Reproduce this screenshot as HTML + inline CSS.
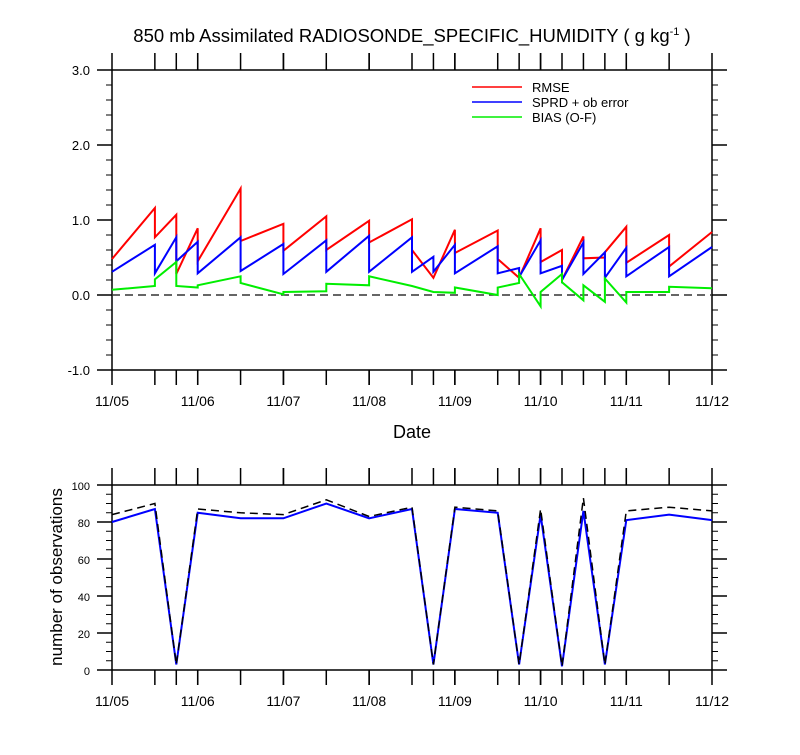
<!DOCTYPE html>
<html><head><meta charset="utf-8"><style>
body{margin:0;background:#fff}
svg text{font-family:"Liberation Sans",sans-serif;fill:#000}
</style></head><body>
<svg id="c" width="800" height="750" xmlns="http://www.w3.org/2000/svg"></svg>
<script>
// times in days after 11/05 00Z; repeated times make vertical jumps
const rmseT = [0,0.5,0.5,0.75,0.75,1,1,1.5,1.5,2,2,2.5,2.5,3,3,3.5,3.5,3.75,4,4,4.5,4.5,4.75,5,5,5.25,5.25,5.5,5.5,5.75,5.75,6,6,6.5,6.5,7];
const rmseV = [0.48,1.16,0.77,1.07,0.28,0.89,0.45,1.42,0.72,0.95,0.59,1.05,0.6,0.99,0.7,1.01,0.6,0.23,0.87,0.56,0.86,0.48,0.23,0.89,0.44,0.6,0.2,0.78,0.49,0.5,0.57,0.91,0.43,0.8,0.38,0.84];
const sprdT = [0,0.5,0.5,0.75,0.75,1,1,1.5,1.5,2,2,2.5,2.5,3,3,3.5,3.5,3.75,3.75,4,4,4.5,4.5,4.75,4.75,5,5,5.25,5.25,5.5,5.5,5.75,5.75,6,6,6.5,6.5,7];
const sprdV = [0.31,0.67,0.29,0.77,0.45,0.71,0.29,0.77,0.32,0.68,0.28,0.73,0.31,0.79,0.31,0.77,0.31,0.51,0.31,0.67,0.29,0.65,0.29,0.36,0.24,0.73,0.29,0.39,0.2,0.7,0.28,0.57,0.23,0.63,0.25,0.64,0.25,0.64];
const biasT = [0,0.5,0.5,0.75,0.75,1,1,1.5,1.5,2,2,2.5,2.5,3,3,3.5,3.75,4,4,4.5,4.5,4.75,4.75,5,5,5.25,5.25,5.5,5.5,5.75,5.75,6,6,6.5,6.5,7];
const biasV = [0.07,0.12,0.21,0.44,0.12,0.1,0.13,0.25,0.16,0.01,0.04,0.05,0.15,0.13,0.25,0.12,0.04,0.03,0.1,0.0,0.1,0.16,0.28,-0.15,0.04,0.28,0.17,-0.07,0.13,-0.09,0.22,-0.1,0.04,0.04,0.11,0.09];
const obsT = [0,0.5,0.75,1,1.5,2,2.5,3,3.5,3.75,4,4.5,4.75,5,5.25,5.5,5.75,6,6.5,7];
const obsUsed = [80,87,3,85,82,82,90,82,87,3,87,85,3,84,2,86,3,81,84,81];
const obsTotal = [84,90,3,87,85,84,92,83,88,3,88,86,3,87,2,93,3,86,88,86];
const dayLabels = ["11/05","11/06","11/07","11/08","11/09","11/10","11/11","11/12"];
const topYTicks = [-1,0,1,2,3];
const topYLabels = ["-1.0","0.0","1.0","2.0","3.0"];
const botYTicks = [0,20,40,60,80,100];

const svg=document.getElementById('c');const NS='http://www.w3.org/2000/svg';
function el(t,a,p){const e=document.createElementNS(NS,t);for(const k in a)e.setAttribute(k,a[k]);(p||svg).appendChild(e);return e;}
const X0=112,X1=712;
const xs=t=>X0+(X1-X0)*t/7;
const yTop=v=>295-75*v;
const yBot=v=>670-1.85*v;
const brk=[0.5,0.75,1,1.5,2,2.5,3,3.5,3.75,4,4.5,4.75,5,5.25,5.5,5.75,6,6.5];

function tx(x,y,s,size,anchor,name){const t=el('text',{x:x,y:y,'font-size':size,'text-anchor':anchor||'middle'});t.textContent=s;return t;}
function ln(x1,y1,x2,y2,w,name){const l=el('line',{x1,y1,x2,y2,stroke:'#000','stroke-width':w||1.5});return l;}
function path(T,V,ys,color,w,name,dash){let d='';T.forEach((t,i)=>{d+=(i?'L':'M')+xs(t).toFixed(1)+','+ys(V[i]).toFixed(1);});const p=el('path',{d,fill:'none',stroke:color,'stroke-width':w,'stroke-linejoin':'miter'});if(dash)p.setAttribute('stroke-dasharray',dash);return p;}

// title
const ti=el('text',{x:412,y:42,'font-size':18.5,'text-anchor':'middle'});

ti.innerHTML='850 mb Assimilated RADIOSONDE_SPECIFIC_HUMIDITY ( g kg<tspan dy="-7" font-size="11">-1</tspan><tspan dy="7"> )</tspan>';

function panel(yT,yB,ys,ticks,labels,minorStep,lo,hi,lblSize,pre){
  ln(X0,yT,X1,yT,1.5,pre+'-frame-top');ln(X0,yB,X1,yB,1.5,pre+'-frame-bottom');
  ln(X0,yT,X0,yB,1.5,pre+'-y-axis-left');ln(X1,yT,X1,yB,1.5,pre+'-y-axis-right');
  ticks.forEach((v,i)=>{const y=ys(v);ln(97,y,X0,y,1.5,pre+'-y-major-tick');ln(X1,y,727,y,1.5,pre+'-y-major-tick-right');
    tx(90,y+5,labels[i],lblSize,'end',pre+'-y-tick-label');});
  for(let v=lo;v<=hi+1e-9;v+=minorStep){const y=ys(v);ln(X0-6,y,X0,y,1,pre+'-y-minor-tick');ln(X1,y,X1+6,y,1,pre+'-y-minor-tick-right');}
  for(let d=0;d<=7;d++){ln(xs(d),yB,xs(d),yB+15,1.5,pre+'-x-tick');ln(xs(d),yT,xs(d),yT-17,1.5,pre+'-x-top-tick');}
  brk.forEach(t=>{ln(xs(t),yB,xs(t),yB+15,1.5,pre+'-x-tick');ln(xs(t),yT,xs(t),yT-17,1.5,pre+'-x-top-tick');});
  dayLabels.forEach((s,i)=>tx(xs(i),yB+36,s,14,'middle',pre+'-x-tick-label'));
}
panel(70,370,yTop,topYTicks,topYLabels,0.2,-1,3,13,'top');
const z=ln(X0,yTop(0),X1,yTop(0),1.5,'zero-line');z.setAttribute('stroke-dasharray','8,5');z.setAttribute('stroke','#333');
path(rmseT,rmseV,yTop,'#ff0000',2,'rmse-line');
path(sprdT,sprdV,yTop,'#0000ff',2,'sprd-line');
path(biasT,biasV,yTop,'#00ee00',2,'bias-line');
tx(412,438,'Date',18,'middle','x-axis-title');
// legend
[['RMSE','#ff0000'],['SPRD + ob error','#0000ff'],['BIAS (O-F)','#00ee00']].forEach((e,i)=>{
  const y=87+i*15;const l=el('line',{x1:472,y1:y,x2:522,y2:y,stroke:e[1],'stroke-width':1.5});
  
  tx(532,y+5,e[0],13,'start','legend-entry');});

panel(485,670,yBot,botYTicks,botYTicks.map(String),5,0,100,11,'bottom');
path(obsT,obsUsed,yBot,'#0000ff',2,'obs-used-line');
path(obsT,obsTotal,yBot,'#000',1.5,'obs-total-line','8,5');
const yt=el('text',{x:0,y:0,'font-size':17,'text-anchor':'middle',transform:'translate(62,577) rotate(-90)'});
yt.textContent='number of observations';

</script>
</body></html>
